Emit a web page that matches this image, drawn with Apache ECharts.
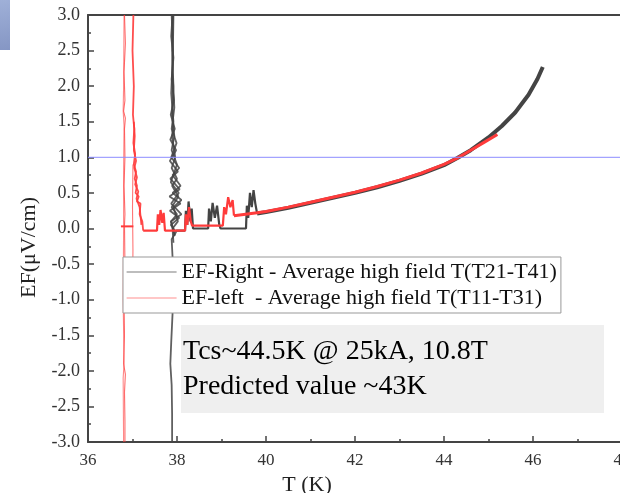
<!DOCTYPE html>
<html>
<head>
<meta charset="utf-8">
<script src="https://cdn.jsdelivr.net/npm/echarts@6/dist/echarts.min.js"></script>
<style>
  html, body { margin: 0; padding: 0; background: #fff; }
  #chart { width: 620px; height: 493px; }
</style>
</head>
<body>
<div id="chart"></div>
<script>
// EF-Right (black): [T, EF]
const rightSpike = [[37.90,3.0],[37.87,2.7],[37.92,2.4],[37.88,2.1],[37.93,1.8],[37.86,1.6],[37.95,1.4],[37.85,1.25],[37.98,1.1],[37.84,0.95],[38.02,0.8],[37.85,0.7],[38.06,0.55],[37.83,0.45],[38.08,0.35],[37.84,0.25],[38.05,0.15],[37.86,0.05],[37.98,-0.05],[37.88,-0.15],[37.9,-0.4],[37.88,-0.8],[37.9,-1.2],[37.87,-1.6],[37.85,-1.9],[37.88,-2.2],[37.89,-2.6],[37.89,-3.0]]
const rightSpike2 = [[37.95,-0.1],[37.86,0.1],[38.1,0.2],[37.87,0.35],[38.04,0.5],[37.86,0.65],[38.0,0.9],[37.88,1.1],[37.94,1.3],[37.89,1.6],[37.92,2.0],[37.89,2.5],[37.91,3.0]]
const rightSpike3 = [[37.92,3.0],[37.9,2.2],[37.94,1.7],[37.88,1.4],[37.99,1.2],[37.87,1.0],[38.05,0.85],[37.9,0.75],[38.08,0.6],[37.9,0.5],[38.1,0.4],[37.92,0.3],[38.02,0.1],[37.9,0.0],[37.92,-0.2]]
const rightSpike4 = [[37.88,3.0],[37.91,2.5],[37.87,1.9],[37.92,1.5],[37.89,1.3],[37.96,1.0],[37.88,0.85],[38.0,0.7],[37.89,0.6],[38.03,0.45],[37.88,0.3],[38.0,0.2],[37.87,0.1],[37.95,-0.1]]
const rightSteps = [[37.98,-0.03],[38.18,-0.03],[38.2,0.25],[38.23,0.05],[38.26,0.38],[38.3,0.1],[38.33,0.28],[38.36,0.0],[38.7,0.0],[38.72,0.28],[38.76,0.1],[38.8,0.36],[38.85,0.15],[38.9,0.32],[38.95,0.05],[38.98,0.0],[39.55,0.0],[39.57,0.32],[39.6,0.15],[39.64,0.5],[39.68,0.3],[39.72,0.54],[39.76,0.35],[39.8,0.21]]
const rightCurve = [[39.8,0.21],[40.0,0.23],[40.5,0.29],[41.0,0.36],[41.5,0.43],[42.0,0.5],[42.5,0.58],[43.0,0.67],[43.5,0.77],[44.0,0.89],[44.3,0.99],[44.6,1.1],[45.0,1.28],[45.3,1.44],[45.6,1.63],[45.9,1.88],[46.1,2.1],[46.22,2.27]]

// EF-left (red): [T, EF]
const leftLineA = [[36.82,3.0],[36.84,2.6],[36.81,2.2],[36.83,1.8],[36.8,1.65],[36.84,1.55],[36.82,1.4],[36.83,1.0],[36.81,0.6],[36.83,0.2],[36.82,0.05],[36.83,-0.5],[36.81,-1.0],[36.82,-1.5],[36.8,-1.9],[36.84,-2.05],[36.82,-2.3],[36.83,-2.7],[36.83,-3.0]]
const leftLineA2 = [[36.81,3.0],[36.8,2.0],[36.79,1.65],[36.81,1.45],[36.8,0.8],[36.8,0.0],[36.79,-1.0],[36.81,-1.9],[36.79,-2.1],[36.8,-3.0]]
const leftJoin = [[36.74,0.03],[37.02,0.03]]
const leftLineB = [[37.02,3.0],[37.0,2.5],[37.03,2.0],[37.01,1.6],[37.04,1.4],[37.02,1.2],[37.06,1.05],[37.03,0.9],[37.08,0.8],[37.05,0.7],[37.1,0.6],[37.07,0.5],[37.14,0.45],[37.1,0.38],[37.18,0.35],[37.16,0.2],[37.22,0.1],[37.24,-0.03]]
const leftLineB2 = [[37.03,1.5],[37.05,1.3],[37.03,1.1],[37.08,0.95],[37.04,0.85],[37.1,0.72],[37.06,0.62],[37.13,0.52],[37.09,0.42],[37.16,0.3],[37.2,0.05]]
const leftLineBLow = [[37.01,0.9],[37.0,0.3],[37.01,-0.3],[37.0,-1.0]]
const leftSteps = [[37.24,-0.03],[37.55,-0.03],[37.57,0.2],[37.6,0.05],[37.63,0.26],[37.67,0.08],[37.7,0.22],[37.73,-0.03],[38.18,-0.03],[38.2,0.2],[38.23,0.05],[38.27,0.3],[38.31,0.1],[38.34,0.04],[39.03,0.04],[39.06,0.3],[39.1,0.2],[39.15,0.44],[39.2,0.3],[39.25,0.4],[39.28,0.18]]
const leftCurve = [[39.28,0.18],[39.8,0.22],[40.0,0.24],[40.5,0.3],[41.0,0.37],[41.5,0.44],[42.0,0.51],[42.5,0.59],[43.0,0.68],[43.5,0.78],[44.0,0.9],[44.3,0.99],[44.6,1.1],[44.9,1.21],[45.2,1.32]]

// 1 uV/cm criterion
const criterion = [[36,1],[48,1]]

const nameRight = 'EF-Right - Average high field T(T21-T41)'
const nameLeft = 'EF-left  - Average high field T(T11-T31)'
const serif = "'Liberation Serif', 'Times New Roman', serif"

const myChart = echarts.init(document.getElementById('chart'))

function lineSeries(name, data, color, width, opacity) {
  return {
    name: name,
    type: 'line',
    data: data,
    symbol: 'none',
    silent: true,
    lineStyle: { color: color, width: width, opacity: opacity || 1 },
    itemStyle: { color: color },
  }
}

const option = {
  animation: false,
  backgroundColor: '#fff',
  grid: { left: 88, right: -2, top: 15, bottom: 51, outerBoundsMode: 'none', containLabel: false },
  legend: {
    left: 123,
    top: 257,
    orient: 'vertical',
    backgroundColor: '#fff',
    borderColor: '#999',
    borderWidth: 1,
    padding: [4, 4, 4, 3],
    itemGap: 4,
    itemWidth: 50,
    itemHeight: 14,
    textStyle: { fontFamily: serif, fontSize: 22, color: '#111' },
    data: [
      { name: nameRight, itemStyle: { opacity: 0 }, lineStyle: { color: '#666', width: 1.2 } },
      { name: nameLeft, itemStyle: { opacity: 0 }, lineStyle: { color: '#ff6b6b', width: 1.2 } },
    ],
  },
  xAxis: [
    {
      type: 'value',
      min: 36,
      max: 48,
      interval: 2,
      name: 'T (K)',
      nameLocation: 'middle',
      nameGap: 27,
      nameTextStyle: { fontFamily: serif, fontSize: 22, color: '#222', padding: [0, 96, 0, 0] },
      axisLine: { show: true, onZero: false, lineStyle: { color: '#444', width: 2 } },
      axisTick: { show: true, inside: true, length: 6, lineStyle: { color: '#444', width: 1.5 } },
      minorTick: { show: true, splitNumber: 2, length: 3, lineStyle: { color: '#444', width: 1.5 } },
      axisLabel: { fontFamily: serif, fontSize: 17, color: '#333', margin: 10 },
      splitLine: { show: false },
    },
    {
      type: 'value',
      position: 'top',
      min: 36,
      max: 48,
      axisLine: { show: true, onZero: false, lineStyle: { color: '#444', width: 2 } },
      axisTick: { show: false },
      axisLabel: { show: false },
      splitLine: { show: false },
    },
  ],
  yAxis: {
    type: 'value',
    min: -3,
    max: 3,
    interval: 0.5,
    name: 'EF(\u03bcV/cm)',
    nameLocation: 'middle',
    nameGap: 47,
    nameTextStyle: { fontFamily: serif, fontSize: 22, color: '#222', padding: [0, 38, 0, 0] },
    axisLine: { show: true, onZero: false, lineStyle: { color: '#444', width: 2 } },
    axisTick: { show: true, inside: true, length: 6, lineStyle: { color: '#444', width: 1.5 } },
    minorTick: { show: true, splitNumber: 2, length: 3, lineStyle: { color: '#444', width: 1.5 } },
    axisLabel: {
      fontFamily: serif,
      fontSize: 18,
      color: '#333',
      margin: 8,
      formatter: (v) => v.toFixed(1),
    },
    splitLine: { show: false },
  },
  series: [
    lineSeries(nameRight, rightSpike, '#444', 1.8, 0.85),
    lineSeries(nameRight, rightSpike2, '#444', 1.8, 0.85),
    lineSeries(nameRight, rightSpike3, '#444', 1.8, 0.85),
    lineSeries(nameRight, rightSpike4, '#444', 1.8, 0.85),
    lineSeries(nameRight, rightSteps, '#444', 2.2),
    lineSeries(nameRight, rightCurve, '#444', 4),
    lineSeries(nameLeft, leftLineA, '#ff3b3b', 1.1, 0.75),
    lineSeries(nameLeft, leftLineA2, '#ff3b3b', 1.1, 0.6),
    lineSeries(nameLeft, leftJoin, '#ff3b3b', 2),
    lineSeries(nameLeft, leftLineB, '#ff3b3b', 1.8, 0.9),
    lineSeries(nameLeft, leftLineB2, '#ff3b3b', 1.8, 0.9),
    lineSeries(nameLeft, leftLineBLow, '#ff3b3b', 1.1, 0.7),
    lineSeries(nameLeft, leftSteps, '#ff3b3b', 2.2),
    lineSeries(nameLeft, leftCurve, '#ff3b3b', 3),
    Object.assign(lineSeries('criterion', criterion, '#8c8cff', 1.2, 0.8), { z: 5 }),
  ],
  graphic: [
    {
      type: 'rect',
      left: 0,
      top: 0,
      shape: { width: 10, height: 50 },
      style: {
        fill: new echarts.graphic.LinearGradient(0, 0, 1, 1, [
          { offset: 0, color: '#9fb0d8' },
          { offset: 1, color: '#8596c4' },
        ]),
      },
    },
    {
      type: 'rect',
      left: 181,
      top: 325,
      z: 10,
      shape: { width: 423, height: 88 },
      style: { fill: '#efefef' },
    },
    {
      type: 'text',
      left: 183,
      top: 334,
      z: 11,
      style: {
        text: 'Tcs~44.5K @ 25kA, 10.8T\nPredicted value ~43K',
        font: '28px ' + serif,
        fill: '#000',
        lineHeight: 35,
      },
    },
  ],
}

option && myChart.setOption(option)
window.addEventListener('resize', function () {
  myChart.resize()
})
</script>
</body>
</html>
